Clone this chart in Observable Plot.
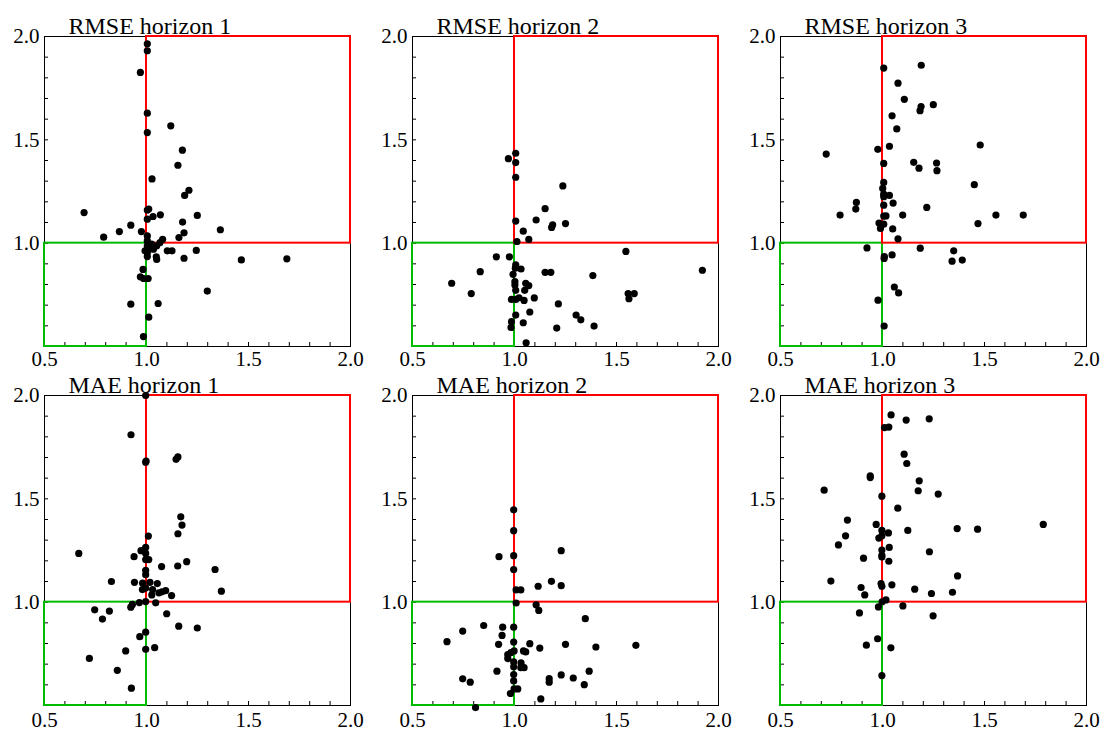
<!DOCTYPE html>
<html>
<head>
<meta charset="utf-8">
<script src="https://cdn.jsdelivr.net/npm/d3@7"></script>
<script src="https://cdn.jsdelivr.net/npm/@observablehq/plot@0.6"></script>
<style>
  html, body { margin: 0; padding: 0; background: white; }
  #wrap { position: relative; width: 1104px; height: 731px; overflow: hidden; }
  #wrap svg { position: absolute; overflow: visible; font-family: "Liberation Serif", "Times New Roman", serif; }
  #wrap svg text { font-family: "Liberation Serif", "Times New Roman", serif; }
</style>
</head>
<body>
<div id="wrap"></div>
<script>
// ---- data (x = ratio, y = ratio) ----
const titles = ["RMSE horizon 1", "RMSE horizon 2", "RMSE horizon 3", "MAE horizon 1", "MAE horizon 2", "MAE horizon 3"];
const xTicks = [0.5, 1.0, 1.5, 2.0];
const yTicks = [1.0, 1.5, 2.0];
const minorTicks = [0.6, 0.7, 0.8, 0.9, 1.0, 1.1, 1.2, 1.3, 1.4, 1.5, 1.6, 1.7, 1.8, 1.9];
const axisDomain = [0.5, 2.0];
const redBox = [{x1: 1.0, x2: 2.0, y1: 1.0, y2: 2.0}];
const greenBox = [{x1: 0.5, x2: 1.0, y1: 0.5, y2: 1.0}];

const rmseH1 = [
  [1.004,1.965],[1.004,1.931],[0.970,1.826],[1.004,1.629],[1.004,1.535],[1.119,1.568],[1.176,1.450],
  [1.154,1.377],[1.027,1.311],[1.208,1.256],[1.187,1.231],[0.694,1.148],[1.011,1.165],[1.004,1.116],
  [1.004,1.160],[1.032,1.129],[1.068,1.137],[1.249,1.134],[1.177,1.102],[0.923,1.087],[0.790,1.029],
  [0.867,1.056],[0.975,1.056],[1.362,1.065],[1.184,1.050],[1.159,1.027],[1.004,1.035],[1.004,1.011],
  [1.079,1.019],[1.066,1.003],[1.050,0.987],[1.034,0.971],[0.993,0.963],[1.004,0.987],[1.102,0.963],
  [1.125,0.963],[1.244,0.965],[1.048,0.934],[1.050,0.921],[1.004,0.935],[1.184,0.927],[1.465,0.919],
  [1.688,0.924],[0.983,0.873],[0.970,0.837],[0.986,0.829],[1.008,0.829],[1.298,0.768],[0.923,0.705],
  [1.057,0.708],[1.011,0.642],[0.985,0.548],[1.015,0.975],[1.025,0.995],[1.004,0.955]
];
const rmseH2 = [
  [1.006,1.435],[0.970,1.409],[1.006,1.390],[1.006,1.319],[1.237,1.277],[1.150,1.167],[1.006,1.107],
  [1.106,1.112],[1.187,1.089],[1.182,1.076],[1.250,1.095],[1.043,1.058],[1.070,1.018],[1.012,1.008],
  [1.546,0.960],[0.911,0.934],[0.975,0.934],[1.006,0.895],[1.032,0.875],[1.004,0.879],[0.832,0.862],
  [0.993,0.849],[1.150,0.859],[1.178,0.859],[1.921,0.869],[0.692,0.806],[1.002,0.814],[1.002,0.798],
  [1.055,0.806],[1.070,0.795],[1.384,0.843],[0.788,0.756],[1.006,0.772],[1.050,0.772],[1.557,0.756],
  [1.587,0.756],[1.561,0.731],[0.985,0.728],[1.006,0.728],[1.022,0.736],[1.047,0.723],[1.097,0.735],
  [1.215,0.706],[1.075,0.667],[1.006,0.652],[1.302,0.652],[1.325,0.629],[0.985,0.620],[1.043,0.615],
  [1.390,0.599],[0.983,0.592],[1.207,0.589],[1.057,0.518]
];
const rmseH3 = [
  [1.190,1.861],[1.006,1.847],[1.076,1.774],[1.107,1.696],[1.249,1.670],[1.189,1.661],[1.184,1.641],
  [1.047,1.616],[1.070,1.553],[0.977,1.454],[1.034,1.469],[1.479,1.475],[0.724,1.431],[1.006,1.386],
  [1.153,1.391],[1.265,1.388],[1.179,1.363],[1.267,1.351],[1.450,1.283],[1.006,1.294],[1.001,1.265],
  [1.006,1.237],[1.006,1.225],[1.034,1.231],[1.052,1.194],[0.872,1.197],[0.869,1.165],[1.006,1.184],
  [1.217,1.173],[0.792,1.136],[1.006,1.131],[1.017,1.132],[1.099,1.136],[1.556,1.136],[1.690,1.136],
  [0.983,1.097],[1.006,1.092],[0.990,1.071],[1.468,1.095],[1.050,1.069],[1.076,1.021],[0.924,0.977],
  [1.185,0.976],[1.349,0.963],[1.047,0.943],[1.009,0.935],[1.008,0.926],[1.341,0.913],[1.391,0.918],
  [1.058,0.788],[1.079,0.759],[0.978,0.724],[1.008,0.599]
];
const maeH1 = [
  [0.996,2.000],[0.924,1.810],[0.996,1.677],[0.998,1.683],[1.145,1.691],[1.154,1.703],[1.168,1.413],
  [1.174,1.373],[1.154,1.331],[1.009,1.320],[0.668,1.236],[0.996,1.265],[0.973,1.249],[0.996,1.236],
  [0.939,1.220],[0.996,1.206],[1.011,1.206],[1.197,1.196],[1.074,1.172],[1.153,1.175],[1.336,1.158],
  [0.996,1.154],[0.996,1.133],[0.828,1.100],[0.941,1.096],[0.981,1.092],[1.017,1.096],[1.053,1.090],
  [0.996,1.068],[0.980,1.061],[1.030,1.061],[1.026,1.035],[1.061,1.045],[1.076,1.050],[1.094,1.056],
  [1.123,1.032],[1.367,1.053],[0.965,0.998],[0.996,1.003],[1.045,0.997],[0.931,0.989],[0.923,0.976],
  [0.746,0.963],[0.818,0.957],[0.784,0.918],[1.099,0.944],[1.158,0.884],[1.249,0.875],[0.996,0.855],
  [0.967,0.833],[0.996,0.772],[1.040,0.780],[0.898,0.764],[0.720,0.728],[0.857,0.670],[0.926,0.584]
];
const maeH2 = [
  [0.996,1.447],[0.996,1.346],[0.924,1.220],[0.996,1.225],[1.229,1.249],[0.996,1.158],[1.181,1.101],
  [1.116,1.077],[1.229,1.080],[1.008,1.059],[1.031,1.059],[1.008,0.996],[1.106,0.987],[1.119,0.960],
  [1.347,0.920],[0.849,0.887],[0.942,0.879],[0.996,0.879],[0.746,0.860],[0.939,0.839],[0.669,0.809],
  [0.922,0.796],[0.996,0.807],[1.075,0.799],[1.124,0.778],[1.250,0.796],[1.399,0.783],[1.595,0.791],
  [0.998,0.764],[0.983,0.756],[0.967,0.746],[0.967,0.727],[1.044,0.764],[1.055,0.759],[0.996,0.711],
  [1.032,0.706],[0.996,0.687],[1.031,0.683],[1.047,0.683],[0.914,0.666],[1.366,0.666],[0.996,0.650],
  [0.746,0.629],[1.170,0.630],[1.170,0.613],[1.229,0.648],[1.288,0.633],[0.783,0.613],[0.996,0.619],
  [1.342,0.601],[0.998,0.580],[1.016,0.580],[0.980,0.558],[1.129,0.532],[0.809,0.490]
];
const maeH3 = [
  [1.042,1.906],[1.229,1.887],[1.116,1.881],[1.010,1.845],[1.031,1.847],[1.106,1.716],[1.119,1.671],
  [0.940,1.611],[0.940,1.603],[1.180,1.587],[0.714,1.542],[1.175,1.539],[1.273,1.523],[0.997,1.513],
  [1.075,1.455],[0.828,1.397],[0.969,1.376],[1.788,1.376],[1.366,1.356],[1.466,1.353],[1.124,1.347],
  [0.997,1.347],[1.029,1.335],[0.819,1.321],[0.997,1.321],[0.982,1.310],[0.784,1.277],[1.033,1.265],
  [0.997,1.252],[1.230,1.244],[0.997,1.227],[0.997,1.218],[0.907,1.213],[1.031,1.198],[1.368,1.127],
  [0.747,1.102],[0.993,1.090],[0.997,1.077],[1.046,1.084],[0.895,1.071],[1.158,1.063],[0.913,1.035],
  [1.240,1.042],[1.343,1.048],[1.017,1.011],[0.998,1.002],[0.980,0.977],[1.100,0.982],[0.887,0.948],
  [1.248,0.934],[0.976,0.823],[0.921,0.792],[1.041,0.779],[0.997,0.645]
];
const panels = [rmseH1, rmseH2, rmseH3, maeH1, maeH2, maeH3];

// ---- layout ----
const wrap = document.getElementById("wrap");
const W = 368, mL = 44, mR = 18;
const rows = [
  {top: 0,   height: 365, mT: 36, mB: 19, pad: 5},
  {top: 365, height: 366, mT: 30, mB: 26, pad: 7}
];
const fmt = d3.format(".1f");
const serif = "Liberation Serif";

panels.forEach((data, i) => {
  const col = i % 3, row = Math.floor(i / 3);
  const R = rows[row];
  const frameW = W - mL - mR;
  const frameH = R.height - R.mT - R.mB;
  const svg = Plot.plot({
    width: W,
    height: R.height,
    marginLeft: mL, marginRight: mR, marginTop: R.mT, marginBottom: R.mB,
    style: "font-family: 'Liberation Serif', serif; font-size: 21px; background: transparent; color: black; overflow: visible;",
    x: {domain: axisDomain, axis: null},
    y: {domain: axisDomain, axis: null},
    marks: [
      Plot.frame({stroke: "black", strokeWidth: 1}),
      Plot.tickX(minorTicks, {x: d => d, insetTop: frameH - 4, stroke: "black", strokeWidth: 1}),
      Plot.tickY(minorTicks, {y: d => d, insetRight: frameW - 4, stroke: "black", strokeWidth: 1}),
      Plot.rect(greenBox, {x1: "x1", x2: "x2", y1: "y1", y2: "y2", fill: "none", stroke: "#00bb00", strokeWidth: 2}),
      Plot.rect(redBox, {x1: "x1", x2: "x2", y1: "y1", y2: "y2", fill: "none", stroke: "#ff0000", strokeWidth: 2}),
      Plot.dot(data, {x: d => d[0], y: d => d[1], r: 3.6, fill: "black", stroke: "none"}),
      Plot.axisX({ticks: xTicks, tickFormat: fmt, tickSize: 0, tickPadding: R.pad, label: null, fontSize: 21, fontFamily: serif, fill: "black"}),
      Plot.axisY({ticks: yTicks, tickFormat: fmt, tickSize: 0, tickPadding: 5, label: null, fontSize: 21, fontFamily: serif, fill: "black"}),
      Plot.text([titles[i]], {text: d => d, frameAnchor: "top-left", textAnchor: "start", lineAnchor: "bottom", dx: 24, dy: -3, fontSize: 24, fontFamily: serif, fill: "black"})
    ]
  });
  svg.style.left = (col * W) + "px";
  svg.style.top = R.top + "px";
  wrap.appendChild(svg);
});
</script>
</body>
</html>
